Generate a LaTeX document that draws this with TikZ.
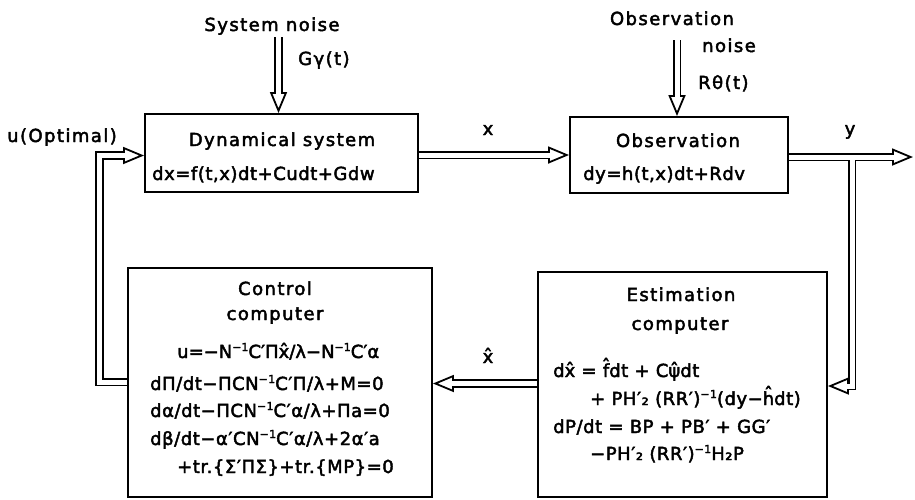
\documentclass[tikz,border=0pt]{standalone}
\usepackage{fontspec}
\setmainfont{DejaVu Sans}[LetterSpace=8,FakeBold=2.5]
\newfontfamily\eqfont{DejaVu Sans}[LetterSpace=3,FakeBold=2.5]
\newfontfamily\eqtight{DejaVu Sans}[LetterSpace=0,FakeBold=2.5]
\usetikzlibrary{arrows.meta}
\pgfdeclarelayer{bg}
\pgfsetlayers{bg,main}
\newcommand\hh[1]{\leavevmode\setbox0\hbox{#1}\rlap{\hbox to\wd0{\hss\smash{\raisebox{\dimexpr\ht0-9pt\relax}{ˆ}}\hss}}\box0\relax}
\newcommand\supm{\raisebox{7pt}{\fontsize{11}{11}\selectfont −1}}
\newcommand\darr[1]{%
  \draw[tipA] #1;
  \draw[dO, shorten >=19pt] #1;
  \draw[dI, shorten >=19pt] #1;}
\begin{document}
\begin{tikzpicture}[x=1pt,y=-1pt,
  box/.style={draw, line width=1.9pt, fill=white, inner sep=0pt},
  txt/.style={font=\fontsize{18}{22}\selectfont, inner sep=0pt},
  eq/.style={font=\eqfont\fontsize{18}{22}\selectfont, inner sep=0pt},
  eqt/.style={font=\eqtight\fontsize{18}{22}\selectfont, inner sep=0pt},
  tipA/.style={line width=1.8pt, line join=miter, -{Triangle[length=21pt,width=17pt,fill=white]}},
  dO/.style={line width=8.6pt, line join=miter, black},
  dI/.style={line width=5pt, line join=miter, white}]
\useasboundingbox (0,0) rectangle (915,499);
% boxes
\node[box, minimum width=273pt, minimum height=78pt] (dyn) at (281.5,153) {};
\node[box, minimum width=218pt, minimum height=76pt] (obs) at (679,155) {};
\node[box, minimum width=304pt, minimum height=229pt] (ctl) at (280,382.5) {};
\node[box, minimum width=289pt, minimum height=225pt] (est) at (682.5,384.5) {};
% free ends
\coordinate (n1) at (278.5,37);
\coordinate (n2) at (677,40);
\coordinate (yend) at (913,157);
\coordinate (yj) at (852,157);
\coordinate (yc) at (852,386);
\coordinate (uc1) at (99.5,382);
\coordinate (uc2) at (99.5,155.5);
\begin{pgfonlayer}{bg}
\darr{(n1) -- (n1 |- dyn.north)}
\darr{(n2) -- (n2 |- obs.north)}
\darr{(dyn.east |- 0,155) -- (obs.west |- 0,155)}
\darr{(est.west |- 0,383.5) -- (ctl.east |- 0,383.5)}
\darr{(ctl.west |- uc1) -- (uc1) -- (uc2) -- (dyn.west |- uc2)}
% y output with branch
\draw[tipA] (obs.east |- yend) -- (yend);
\draw[tipA] (yj) -- (yc) -- (est.east |- yc);
\draw[dO, shorten >=19pt] (obs.east |- yend) -- (yend);
\draw[dO, shorten >=19pt] (yj) -- (yc) -- (est.east |- yc);
\draw[dI, shorten >=19pt] (obs.east |- yend) -- (yend);
\draw[dI, shorten >=19pt] (yj) -- (yc) -- (est.east |- yc);
\end{pgfonlayer}
% labels
\node[txt, anchor=base] (sn) at (272,31) {System noise};
\node[txt, anchor=base west] (gg) at (298,65) {Gγ(t)};
\node[txt, anchor=base west] (uo) at (7,142) {u(Optimal)};
\node[txt, anchor=base] (xl) at (488,135) {x};
\node[txt, anchor=base] (on) at (672,25) {Observation};
\node[txt, anchor=base west] (nz) at (702,52) {noise};
\node[txt, anchor=base west] (rt) at (698,89) {Rθ(t)};
\node[txt, anchor=base] (yl) at (850,135) {y};
\node[txt, anchor=base] (xh) at (488,363) {\hh{x}};
% dynamical system
\node[txt, anchor=base] (d1) at (282,146) {Dynamical system};
\node[eq, anchor=base west] (d2) at (152,180) {dx=f(t,x)dt+Cudt+Gdw};
% observation
\node[txt, anchor=base] (o1) at (678,147) {Observation};
\node[eq, anchor=base west] (o2) at (583,180) {dy=h(t,x)dt+Rdv};
% control computer
\node[txt, anchor=base] (c1) at (275,295) {Control};
\node[txt, anchor=base] (c2) at (275,320) {computer};
\node[eqt, anchor=base west] (c3) at (177,358) {u=−N\supm C′Π\hh{x}/λ−N\supm C′α};
\node[eq, anchor=base west] (c4) at (150,390) {dΠ/dt−ΠCN\supm C′Π/λ+M=0};
\node[eq, anchor=base west] (c5) at (150,417) {dα/dt−ΠCN\supm C′α/λ+Πa=0};
\node[eq, anchor=base west] (c6) at (150,445) {dβ/dt−α′CN\supm C′α/λ+2α′a};
\node[eq, anchor=base west] (c7) at (177,473) {+tr.\{Σ′ΠΣ\}+tr.\{MP\}=0};
% estimation computer
\node[txt, anchor=base] (e1) at (681,301) {Estimation};
\node[txt, anchor=base] (e2) at (680,330) {computer};
\node[eq, anchor=base west] (e3) at (553,377) {d\hh{x} = \hh{f}dt + C\hh{ψ}dt};
\node[eq, anchor=base west] (e4) at (590,405) {+ PH′₂ (RR′)\supm(dy−\hh{h}dt)};
\node[eq, anchor=base west] (e5) at (553,433) {dP/dt = BP + PB′ + GG′};
\node[eq, anchor=base west] (e6) at (590,460) {−PH′₂ (RR′)\supm H₂P};
\end{tikzpicture}
\end{document}
